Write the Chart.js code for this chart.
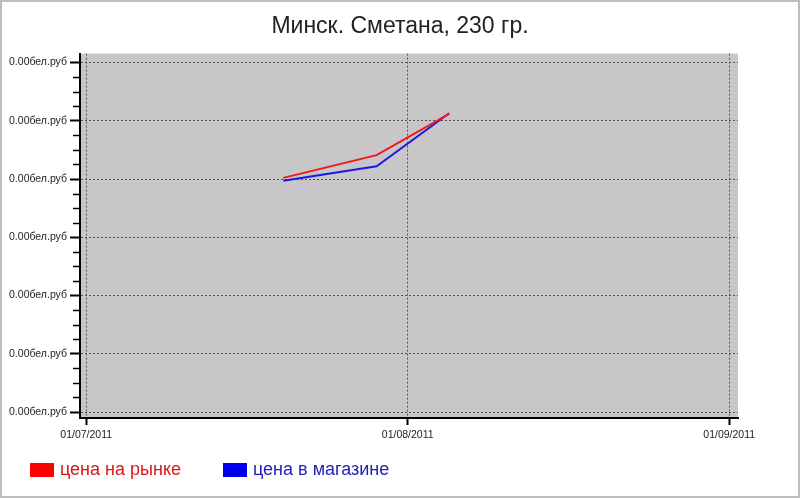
<!DOCTYPE html>
<html>
<head>
<meta charset="utf-8">
<script src="https://cdn.jsdelivr.net/npm/chart.js@4/dist/chart.umd.min.js"></script>
<style>
  html, body { margin: 0; padding: 0; background: #fff; }
  #wrap { width: 800px; height: 498px; }
</style>
</head>
<body>
<div id="wrap"><canvas id="priceChart" width="800" height="498"></canvas></div>
<script>
// days counted from 01/07/2011
const dateTicks = [0, 31, 62];
const dateLabels = ["01/07/2011", "01/08/2011", "01/09/2011"];
const pointDays = [19, 28, 35];
const marketPrices = [4.02, 4.41, 5.12];
const shopPrices = [3.97, 4.22, 5.13];
const yTicks = [0, 1, 2, 3, 4, 5, 6];
const yTickLabels = ["0.00бел.руб", "0.00бел.руб", "0.00бел.руб", "0.00бел.руб",
                     "0.00бел.руб", "0.00бел.руб", "0.00бел.руб"];
const seriesNames = ["цена на рынке", "цена в магазине"];

const FONT = "'Liberation Sans', Arial, sans-serif";

function isMajor(v) {
  return Math.abs(v - Math.round(v)) < 1e-6;
}

// grey plot area, white page, outer frame, short minor ticks
const backdrop = {
  id: "backdrop",
  beforeDraw(chart) {
    const { ctx, chartArea: a } = chart;
    ctx.save();
    ctx.fillStyle = "#fff";
    ctx.fillRect(0, 0, chart.width, chart.height);
    ctx.fillStyle = "#c8c6c8";
    ctx.fillRect(a.left, a.top, a.right - a.left, a.bottom - a.top);
    ctx.restore();
  },
  afterDraw(chart) {
    const ctx = chart.ctx;
    const y = chart.scales.y;
    ctx.save();
    ctx.strokeStyle = "#000";
    ctx.lineWidth = 1.5;
    y.ticks.forEach(t => {
      if (isMajor(t.value)) return;
      const py = Math.round(y.getPixelForValue(t.value)) + 0.5;
      ctx.beginPath();
      ctx.moveTo(y.right - 7, py);
      ctx.lineTo(y.right, py);
      ctx.stroke();
    });
    ctx.strokeStyle = "#bdbdbd";
    ctx.lineWidth = 2;
    ctx.strokeRect(1, 1, chart.width - 2, chart.height - 2);
    ctx.restore();
  }
};

// legend drawn under the axis
const bottomLegend = {
  id: "bottomLegend",
  afterDraw(chart) {
    const ctx = chart.ctx;
    const starts = [30, 223];
    ctx.save();
    ctx.font = "18px " + FONT;
    ctx.textBaseline = "middle";
    chart.data.datasets.forEach((ds, i) => {
      const x = starts[i];
      ctx.fillStyle = ds.boxColor;
      ctx.fillRect(x, 463, 24, 14);
      ctx.fillStyle = ds.textColor;
      ctx.fillText(ds.label, x + 30, 470);
    });
    ctx.restore();
  }
};

new Chart(document.getElementById("priceChart"), {
  type: "line",
  data: {
    datasets: [
      {
        label: seriesNames[0],
        data: pointDays.map((d, i) => ({ x: d, y: marketPrices[i] })),
        borderColor: "#ee1a1a",
        boxColor: "#ff0000",
        textColor: "#dd1515",
        borderWidth: 2,
        pointRadius: 0,
        tension: 0
      },
      {
        label: seriesNames[1],
        data: pointDays.map((d, i) => ({ x: d, y: shopPrices[i] })),
        borderColor: "#1a1ae6",
        boxColor: "#0000ee",
        textColor: "#2222bb",
        borderWidth: 2,
        pointRadius: 0,
        tension: 0
      }
    ]
  },
  options: {
    responsive: false,
    animation: false,
    layout: { padding: 0 },
    plugins: {
      legend: { display: false },
      tooltip: { enabled: false },
      title: {
        display: true,
        text: "Минск. Сметана, 230 гр.",
        color: "#222",
        font: { family: FONT, size: 23, weight: "normal" },
        padding: { top: 13, bottom: 13 }
      }
    },
    scales: {
      x: {
        type: "linear",
        min: -0.6,
        max: 62.85,
        afterBuildTicks: (scale) => {
          scale.ticks = dateTicks.map(v => ({ value: v }));
        },
        afterFit: (scale) => { scale.height = 80; },
        ticks: {
          autoSkip: false,
          maxRotation: 0,
          padding: 4,
          color: "#222",
          font: { family: FONT, size: 10.5 },
          callback: (v) => dateLabels[dateTicks.indexOf(v)]
        },
        grid: {
          color: "#555",
          lineWidth: 1,
          tickColor: "#000",
          tickWidth: 2,
          tickLength: 7
        },
        border: { color: "#000", width: 2, dash: [2, 2] }
      },
      y: {
        min: -0.103,
        max: 6.154,
        afterBuildTicks: (scale) => {
          const t = [];
          yTicks.forEach((v, i) => {
            t.push({ value: v });
            if (i < yTicks.length - 1) {
              for (let k = 1; k < 4; k++) t.push({ value: v + k * 0.25 });
            }
          });
          scale.ticks = t;
        },
        afterFit: (scale) => { scale.width = 80; },
        ticks: {
          autoSkip: false,
          padding: 3,
          color: "#222",
          font: { family: FONT, size: 10.5 },
          callback: (v) => isMajor(v) ? yTickLabels[yTicks.indexOf(Math.round(v))] : ""
        },
        grid: {
          color: (c) => isMajor(c.tick.value) ? "#555" : "rgba(0,0,0,0)",
          lineWidth: 1,
          tickColor: (c) => isMajor(c.tick.value) ? "#000" : "rgba(0,0,0,0)",
          tickWidth: 2,
          tickLength: 10
        },
        border: { color: "#000", width: 2, dash: [2, 2] }
      },
      // empty right-hand axis that only reserves the white margin
      yRight: {
        position: "right",
        min: 0,
        max: 1,
        afterFit: (scale) => { scale.width = 62; },
        ticks: { display: false },
        grid: { display: false },
        border: { display: false }
      }
    }
  },
  plugins: [backdrop, bottomLegend]
});
</script>
</body>
</html>
